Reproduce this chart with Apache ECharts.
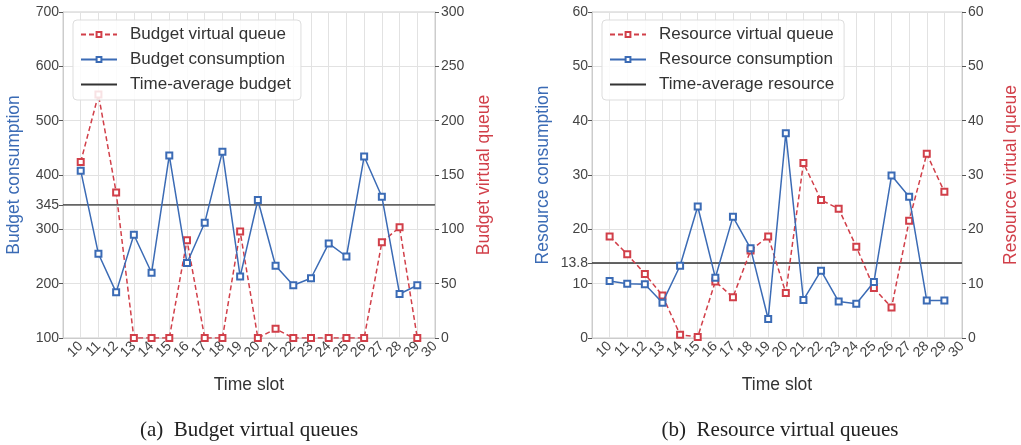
<!DOCTYPE html>
<html>
<head>
<meta charset="utf-8">
<script src="https://cdn.jsdelivr.net/npm/echarts@6/dist/echarts.min.js"></script>
<style>
  html, body { margin: 0; padding: 0; background: #fff; }
  #chart { width: 1021px; height: 445px; }
</style>
</head>
<body>
<div id="chart"></div>
<script>
// time slots (x axis): the axis runs 9..30, data sits on 10..29, labels 10..30
const axisSlots = ['9', '10', '11', '12', '13', '14', '15', '16', '17', '18', '19', '20', '21', '22', '23', '24', '25', '26', '27', '28', '29', '30'];
const slots = ['10', '11', '12', '13', '14', '15', '16', '17', '18', '19', '20', '21', '22', '23', '24', '25', '26', '27', '28', '29'];

// (a) budget
const budgetQueue = [162, 224, 134, 0, 0, 0, 90, 0, 0, 98, 0, 8.5, 0, 0, 0, 0, 0, 88, 102, 0];
const budgetUse = [408, 255, 184, 290, 220, 436, 238, 312, 443, 213, 354, 233, 197, 210, 274, 250, 434, 360, 181, 197];
const budgetAvg = 345;
const budgetTicks = [100, 200, 300, 345, 400, 500, 600, 700];

// (b) resource
const resourceQueue = [18.7, 15.4, 11.8, 7.8, 0.6, 0.2, 10.4, 7.5, 16.1, 18.7, 8.3, 32.2, 25.4, 23.8, 16.8, 9.2, 5.6, 21.6, 33.9, 26.9];
const resourceUse = [10.5, 10.0, 9.9, 6.5, 13.3, 24.2, 11.1, 22.3, 16.5, 3.5, 37.7, 7.0, 12.4, 6.7, 6.3, 10.3, 29.9, 26.0, 6.9, 6.9];
const resourceAvg = 13.8;
const resourceTicks = [0, 10, 13.8, 20, 30, 40, 50, 60];

const BLUE = '#3b6bb5';
const RED = '#d13f49';
const SANS = 'Liberation Sans, Arial, sans-serif';

const pairs = (ys) => slots.map((s, i) => [s, ys[i]]);

const xAxisFor = (gridIndex) => ({
  type: 'category',
  gridIndex: gridIndex,
  data: axisSlots,
  boundaryGap: false,
  name: 'Time slot',
  nameLocation: 'middle',
  nameGap: 38,
  nameTextStyle: { color: '#333', fontSize: 17.5, fontFamily: SANS },
  axisLine: { show: true, lineStyle: { color: '#cccccc' } },
  axisTick: { show: false },
  axisLabel: {
    interval: 0,
    rotate: 45,
    color: '#444',
    fontSize: 14,
    fontFamily: SANS,
    margin: 6,
    formatter: (v) => (v === axisSlots[0] ? '' : v)
  },
  splitLine: { show: true, interval: 0, lineStyle: { color: '#e2e2e2' } }
});

const yAxisFor = (gridIndex, pos, min, max, interval, name, color, custom) => {
  const ax = {
    type: 'value',
    gridIndex: gridIndex,
    position: pos,
    min: min,
    max: max,
    interval: interval,
    name: name,
    nameLocation: 'middle',
    nameRotate: 90,
    nameGap: 40,
    nameTextStyle: { color: color, fontSize: 17.5, fontFamily: SANS },
    axisLine: { show: true, lineStyle: { color: '#cccccc' } },
    axisTick: { show: true, length: 4, lineStyle: { color: '#555' } },
    axisLabel: { color: '#444', fontSize: 14, fontFamily: SANS, margin: pos === 'left' ? 4 : 6 },
    splitLine: { show: true, lineStyle: { color: '#e2e2e2' } }
  };
  if (custom) {
    ax.axisLabel.customValues = custom;
    ax.axisTick.customValues = custom;
  }
  return ax;
};

const queueSeries = (name, xi, yi, data) => ({
  name: name,
  type: 'line',
  xAxisIndex: xi,
  yAxisIndex: yi,
  data: pairs(data),
  symbol: 'emptyRect',
  symbolSize: 6,
  z: 3,
  lineStyle: { color: RED, width: 1.5, type: [5, 3] },
  itemStyle: { color: RED, borderColor: RED, borderWidth: 1 }
});

const useSeries = (name, xi, yi, data) => ({
  name: name,
  type: 'line',
  xAxisIndex: xi,
  yAxisIndex: yi,
  data: pairs(data),
  symbol: 'emptyRect',
  symbolSize: 6,
  z: 4,
  lineStyle: { color: BLUE, width: 1.5 },
  itemStyle: { color: BLUE, borderColor: BLUE, borderWidth: 1 }
});

const avgSeries = (name, xi, yi, v) => ({
  name: name,
  type: 'line',
  xAxisIndex: xi,
  yAxisIndex: yi,
  data: [[axisSlots[0], v], [axisSlots[axisSlots.length - 1], v]],
  symbol: 'none',
  z: 2,
  lineStyle: { color: '#333', width: 1.3 },
  itemStyle: { color: '#333' }
});

const legendFor = (left, names) => ({
  orient: 'vertical',
  left: left,
  top: 20,
  data: [
    { name: names[0] },
    { name: names[1] },
    { name: names[2], itemStyle: { opacity: 0 } }
  ],
  itemWidth: 36,
  itemHeight: 6,
  itemGap: 8,
  padding: [6, 10, 7, 7],
  borderColor: '#dddddd',
  borderWidth: 1,
  borderRadius: 4,
  backgroundColor: 'rgba(255,255,255,0.85)',
  textStyle: { color: '#333', fontSize: 17, fontFamily: SANS, padding: [0, 0, 0, 8] },
  z: 10
});

const chart = echarts.init(document.getElementById('chart'));
const option = {
  animation: false,
  backgroundColor: '#fff',
  grid: [
    { left: 63, right: 586, top: 12, bottom: 107, show: true, borderColor: '#cccccc', borderWidth: 1 },
    { left: 592, right: 52, top: 12, bottom: 107, show: true, borderColor: '#cccccc', borderWidth: 1 }
  ],
  legend: [
    legendFor(73, ['Budget virtual queue', 'Budget consumption', 'Time-average budget']),
    legendFor(602, ['Resource virtual queue', 'Resource consumption', 'Time-average resource'])
  ],
  xAxis: [xAxisFor(0), xAxisFor(1)],
  yAxis: [
    yAxisFor(0, 'left', 100, 700, 100, 'Budget consumption', BLUE, budgetTicks),
    yAxisFor(0, 'right', 0, 300, 50, 'Budget virtual queue', RED),
    yAxisFor(1, 'left', 0, 60, 10, 'Resource consumption', BLUE, resourceTicks),
    yAxisFor(1, 'right', 0, 60, 10, 'Resource virtual queue', RED)
  ],
  series: [
    queueSeries('Budget virtual queue', 0, 1, budgetQueue),
    useSeries('Budget consumption', 0, 0, budgetUse),
    avgSeries('Time-average budget', 0, 0, budgetAvg),
    queueSeries('Resource virtual queue', 1, 3, resourceQueue),
    useSeries('Resource consumption', 1, 2, resourceUse),
    avgSeries('Time-average resource', 1, 2, resourceAvg)
  ],
  graphic: [
    {
      type: 'text',
      x: 249, y: 430,
      style: {
        text: '(a)  Budget virtual queues',
        fill: '#222',
        font: '21px "Liberation Serif", serif',
        align: 'center',
        verticalAlign: 'middle'
      }
    },
    {
      type: 'text',
      x: 780, y: 430,
      style: {
        text: '(b)  Resource virtual queues',
        fill: '#222',
        font: '21px "Liberation Serif", serif',
        align: 'center',
        verticalAlign: 'middle'
      }
    }
  ]
};
option && chart.setOption(option);
</script>
</body>
</html>
